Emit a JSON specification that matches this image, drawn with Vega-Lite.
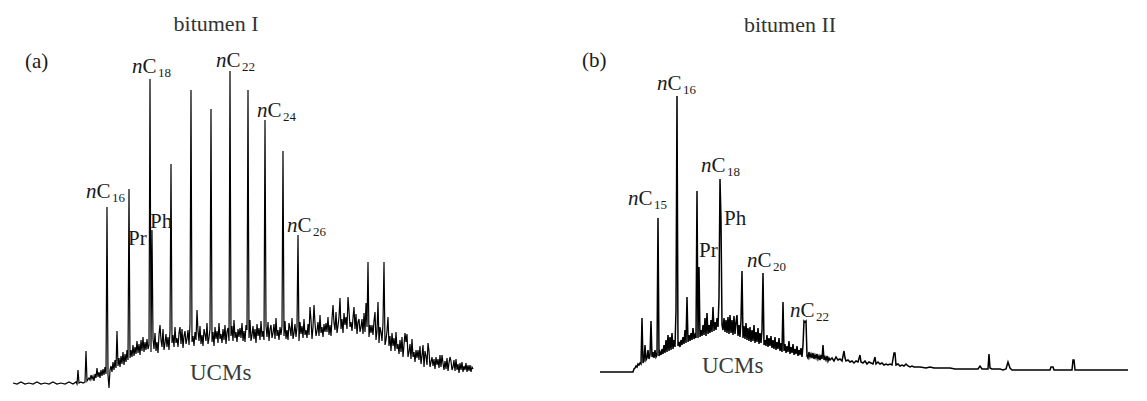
{
"$schema": "https://vega.github.io/schema/vega-lite/v6.json",
"background": "white",
"padding": {"left": 10, "top": 0, "right": 0, "bottom": 0},
"spacing": 95,
"config": {"view": {"stroke": null}, "text": {"font": "Liberation Serif", "color": "#1a1a1a"}},
"datasets": {
"a": [{"t":13,"v":7},{"t":17,"v":6},{"t":21,"v":8},{"t":25,"v":6},{"t":29,"v":7},{"t":33,"v":6},{"t":37,"v":8},{"t":41,"v":6},{"t":45,"v":7},{"t":49,"v":6},{"t":53,"v":8},{"t":57,"v":6},{"t":61,"v":7},{"t":65,"v":6},{"t":69,"v":8},{"t":73,"v":6},{"t":76,"v":8},{"t":77,"v":6},{"t":78,"v":20},{"t":79,"v":7},{"t":81,"v":8},{"t":83,"v":7},{"t":85,"v":8},{"t":86,"v":39},{"t":87,"v":9},{"t":89,"v":12},{"t":90,"v":10},{"t":91,"v":15},{"t":92,"v":11},{"t":93,"v":14},{"t":94,"v":9},{"t":95,"v":16},{"t":96,"v":12},{"t":97,"v":22},{"t":98,"v":13},{"t":99,"v":18},{"t":100,"v":12},{"t":101,"v":20},{"t":102,"v":14},{"t":103,"v":21},{"t":104,"v":15},{"t":105,"v":23},{"t":106,"v":16},{"t":107,"v":183},{"t":108,"v":15},{"t":109,"v":2},{"t":110,"v":20},{"t":111,"v":24},{"t":112,"v":18},{"t":113,"v":28},{"t":114,"v":20},{"t":115,"v":30},{"t":116,"v":22},{"t":117,"v":59},{"t":118,"v":24},{"t":119,"v":32},{"t":120,"v":23},{"t":121,"v":34},{"t":122,"v":26},{"t":123,"v":38},{"t":124,"v":25},{"t":125,"v":36},{"t":126,"v":28},{"t":127,"v":40},{"t":128,"v":30},{"t":129,"v":201},{"t":130,"v":32},{"t":131,"v":40},{"t":132,"v":33},{"t":133,"v":45},{"t":134,"v":34},{"t":135,"v":43},{"t":136,"v":36},{"t":137,"v":49},{"t":138,"v":37},{"t":139,"v":46},{"t":140,"v":35},{"t":141,"v":50},{"t":142,"v":39},{"t":143,"v":53},{"t":144,"v":38},{"t":145,"v":48},{"t":146,"v":40},{"t":147,"v":51},{"t":148,"v":41},{"t":149,"v":45},{"t":150,"v":311},{"t":151,"v":38},{"t":152,"v":160},
{"t":153,"v":51},{"t":154,"v":41},{"t":155,"v":57},{"t":156,"v":39},{"t":157,"v":48},{"t":158,"v":37},{"t":159,"v":55},{"t":160,"v":65},{"t":161,"v":50},{"t":162,"v":43},{"t":163,"v":61},{"t":164,"v":40},{"t":165,"v":47},{"t":166,"v":56},{"t":167,"v":43},{"t":168,"v":53},{"t":169,"v":40},{"t":170,"v":59},{"t":171,"v":226},{"t":172,"v":47},{"t":173,"v":55},{"t":174,"v":43},{"t":175,"v":63},{"t":176,"v":47},{"t":177,"v":52},{"t":178,"v":43},{"t":179,"v":57},{"t":180,"v":63},{"t":181,"v":46},{"t":182,"v":61},{"t":183,"v":42},{"t":184,"v":54},{"t":185,"v":59},{"t":186,"v":46},{"t":187,"v":51},{"t":188,"v":60},{"t":189,"v":45},{"t":190,"v":66},{"t":191,"v":300},{"t":192,"v":48},{"t":193,"v":54},{"t":194,"v":44},{"t":195,"v":58},{"t":196,"v":50},{"t":197,"v":80},{"t":198,"v":59},{"t":199,"v":49},{"t":200,"v":64},
{"t":201,"v":46},{"t":202,"v":55},{"t":203,"v":44},{"t":204,"v":61},{"t":205,"v":56},{"t":206,"v":49},{"t":207,"v":67},{"t":208,"v":46},{"t":209,"v":52},{"t":210,"v":61},{"t":211,"v":281},{"t":212,"v":48},{"t":213,"v":58},{"t":214,"v":44},{"t":215,"v":63},{"t":216,"v":51},{"t":217,"v":59},{"t":218,"v":47},{"t":219,"v":67},{"t":220,"v":51},{"t":221,"v":56},{"t":222,"v":47},{"t":223,"v":61},{"t":224,"v":50},{"t":225,"v":65},{"t":226,"v":46},{"t":227,"v":58},{"t":228,"v":62},{"t":229,"v":49},{"t":230,"v":319},{"t":231,"v":54},{"t":232,"v":64},{"t":233,"v":49},{"t":234,"v":70},{"t":235,"v":52},{"t":236,"v":58},{"t":237,"v":48},{"t":238,"v":61},{"t":239,"v":53},{"t":240,"v":62},{"t":241,"v":52},{"t":242,"v":67},{"t":243,"v":49},{"t":244,"v":59},{"t":245,"v":48},{"t":246,"v":65},{"t":247,"v":60},{"t":248,"v":300},{"t":249,"v":52},{"t":250,"v":70},
{"t":251,"v":49},{"t":252,"v":55},{"t":253,"v":64},{"t":254,"v":51},{"t":255,"v":61},{"t":256,"v":47},{"t":257,"v":66},{"t":258,"v":54},{"t":259,"v":62},{"t":260,"v":50},{"t":261,"v":69},{"t":262,"v":53},{"t":263,"v":59},{"t":264,"v":50},{"t":265,"v":270},{"t":266,"v":64},{"t":267,"v":53},{"t":268,"v":68},{"t":269,"v":49},{"t":270,"v":61},{"t":271,"v":65},{"t":272,"v":52},{"t":273,"v":57},{"t":274,"v":66},{"t":275,"v":51},{"t":276,"v":72},{"t":277,"v":54},{"t":278,"v":60},{"t":279,"v":50},{"t":280,"v":63},{"t":281,"v":55},{"t":282,"v":64},{"t":283,"v":239},{"t":284,"v":54},{"t":285,"v":69},{"t":286,"v":51},{"t":287,"v":60},{"t":288,"v":50},{"t":289,"v":67},{"t":290,"v":62},{"t":291,"v":54},{"t":292,"v":72},{"t":293,"v":51},{"t":294,"v":57},{"t":295,"v":66},{"t":296,"v":53},{"t":297,"v":63},{"t":298,"v":155},{"t":299,"v":49},{"t":300,"v":68},
{"t":301,"v":56},{"t":302,"v":64},{"t":303,"v":52},{"t":304,"v":71},{"t":305,"v":55},{"t":306,"v":60},{"t":307,"v":52},{"t":308,"v":66},{"t":309,"v":55},{"t":310,"v":83},{"t":311,"v":70},{"t":312,"v":51},{"t":313,"v":63},{"t":314,"v":85},{"t":315,"v":67},{"t":316,"v":54},{"t":317,"v":59},{"t":318,"v":68},{"t":319,"v":54},{"t":320,"v":75},{"t":321,"v":57},{"t":322,"v":63},{"t":323,"v":53},{"t":324,"v":66},{"t":325,"v":58},{"t":326,"v":67},{"t":327,"v":58},{"t":328,"v":73},{"t":329,"v":55},{"t":330,"v":65},{"t":331,"v":54},{"t":332,"v":71},{"t":333,"v":85},{"t":334,"v":67},{"t":335,"v":60},{"t":336,"v":78},{"t":337,"v":57},{"t":338,"v":64},{"t":339,"v":73},{"t":340,"v":92},{"t":341,"v":61},{"t":342,"v":71},{"t":343,"v":57},{"t":344,"v":77},{"t":345,"v":65},{"t":346,"v":73},{"t":347,"v":61},{"t":348,"v":93},{"t":349,"v":79},{"t":350,"v":63},
{"t":351,"v":68},{"t":352,"v":59},{"t":353,"v":72},{"t":354,"v":83},{"t":355,"v":61},{"t":356,"v":76},{"t":357,"v":56},{"t":358,"v":68},{"t":359,"v":71},{"t":360,"v":58},{"t":361,"v":63},{"t":362,"v":71},{"t":363,"v":56},{"t":364,"v":77},{"t":365,"v":58},{"t":366,"v":87},{"t":367,"v":63},{"t":368,"v":128},{"t":369,"v":53},{"t":370,"v":65},{"t":371,"v":57},{"t":372,"v":65},{"t":373,"v":55},{"t":374,"v":69},{"t":375,"v":78},{"t":376,"v":50},{"t":377,"v":59},{"t":378,"v":88},{"t":379,"v":47},{"t":380,"v":63},{"t":381,"v":58},{"t":382,"v":49},{"t":383,"v":67},{"t":384,"v":128},{"t":385,"v":45},{"t":386,"v":50},{"t":387,"v":59},{"t":388,"v":73},{"t":389,"v":44},{"t":390,"v":54},{"t":391,"v":39},{"t":392,"v":57},{"t":393,"v":44},{"t":394,"v":52},{"t":395,"v":39},{"t":396,"v":58},{"t":397,"v":41},{"t":398,"v":46},{"t":399,"v":36},{"t":400,"v":50},
{"t":401,"v":38},{"t":402,"v":53},{"t":403,"v":33},{"t":404,"v":45},{"t":405,"v":57},{"t":406,"v":48},{"t":407,"v":56},{"t":408,"v":33},{"t":409,"v":38},{"t":410,"v":46},{"t":411,"v":31},{"t":412,"v":51},{"t":413,"v":33},{"t":414,"v":38},{"t":415,"v":28},{"t":416,"v":40},{"t":417,"v":32},{"t":418,"v":40},{"t":419,"v":30},{"t":420,"v":44},{"t":421,"v":26},{"t":422,"v":34},{"t":423,"v":45},{"t":424,"v":23},{"t":425,"v":39},{"t":426,"v":34},{"t":427,"v":25},{"t":428,"v":47},{"t":429,"v":39},{"t":430,"v":23},{"t":431,"v":28},{"t":432,"v":33},{"t":433,"v":24},{"t":434,"v":31},{"t":435,"v":21},{"t":436,"v":33},{"t":437,"v":25},{"t":438,"v":31},{"t":439,"v":22},{"t":440,"v":35},{"t":441,"v":23},{"t":442,"v":35},{"t":443,"v":27},{"t":444,"v":20},{"t":445,"v":29},{"t":446,"v":21},{"t":447,"v":32},{"t":448,"v":19},{"t":449,"v":27},{"t":450,"v":33},
{"t":451,"v":29},{"t":452,"v":20},{"t":453,"v":23},{"t":454,"v":30},{"t":455,"v":19},{"t":456,"v":31},{"t":457,"v":20},{"t":458,"v":26},{"t":459,"v":17},{"t":460,"v":27},{"t":461,"v":20},{"t":462,"v":28},{"t":463,"v":18},{"t":464,"v":24},{"t":465,"v":20},{"t":466,"v":27},{"t":467,"v":18},{"t":468,"v":25},{"t":469,"v":19},{"t":470,"v":25},{"t":471,"v":18},{"t":472,"v":23},{"t":473,"v":21}],
"b": [{"t":600,"v":18},{"t":610,"v":18},{"t":620,"v":18},{"t":630,"v":18},{"t":633,"v":18},{"t":634,"v":21},{"t":635,"v":22},{"t":636,"v":24},{"t":637,"v":23},{"t":638,"v":26},{"t":639,"v":25},{"t":640,"v":27},{"t":641,"v":26},{"t":642,"v":72},{"t":643,"v":27},{"t":644,"v":29},{"t":645,"v":45},{"t":646,"v":30},{"t":647,"v":32},{"t":648,"v":40},{"t":649,"v":31},{"t":650,"v":35},{"t":651,"v":69},{"t":652,"v":33},{"t":653,"v":38},{"t":654,"v":32},{"t":655,"v":40},{"t":656,"v":33},{"t":657,"v":35},{"t":658,"v":172},{"t":659,"v":34},{"t":660,"v":38},{"t":661,"v":35},{"t":662,"v":41},{"t":663,"v":36},{"t":664,"v":45},{"t":665,"v":37},{"t":666,"v":50},{"t":667,"v":38},{"t":668,"v":55},{"t":669,"v":39},{"t":670,"v":53},{"t":671,"v":40},{"t":672,"v":57},{"t":673,"v":41},{"t":674,"v":50},{"t":675,"v":43},{"t":676,"v":80},{"t":677,"v":294},{"t":678,"v":44},{"t":679,"v":48},{"t":680,"v":43},{"t":681,"v":50},{"t":682,"v":45},{"t":683,"v":53},{"t":684,"v":46},{"t":685,"v":60},{"t":686,"v":47},{"t":687,"v":93},{"t":688,"v":48},{"t":689,"v":55},{"t":690,"v":49},{"t":691,"v":57},{"t":692,"v":50},{"t":693,"v":62},{"t":694,"v":51},{"t":695,"v":55},{"t":696,"v":52},{"t":697,"v":199},{"t":698,"v":52},{"t":699,"v":123},{"t":700,"v":53},{"t":701,"v":60},{"t":702,"v":54},{"t":703,"v":65},{"t":704,"v":55},{"t":705,"v":72},{"t":706,"v":54},{"t":707,"v":77},{"t":708,"v":56},{"t":709,"v":65},{"t":710,"v":57},{"t":711,"v":70},{"t":712,"v":58},{"t":713,"v":83},{"t":714,"v":59},{"t":715,"v":68},{"t":716,"v":60},{"t":717,"v":72},{"t":718,"v":63},{"t":719,"v":92},{"t":720,"v":211},{"t":721,"v":170},{"t":722,"v":65},{"t":723,"v":60},{"t":724,"v":72},{"t":725,"v":58},{"t":726,"v":70},{"t":727,"v":57},{"t":728,"v":73},{"t":729,"v":56},{"t":730,"v":75},{"t":731,"v":57},{"t":732,"v":70},{"t":733,"v":55},{"t":734,"v":74},{"t":735,"v":56},{"t":736,"v":68},{"t":737,"v":75},{"t":738,"v":54},{"t":739,"v":65},{"t":740,"v":53},{"t":741,"v":70},{"t":742,"v":119},{"t":743,"v":52},{"t":744,"v":64},{"t":745,"v":51},{"t":746,"v":67},{"t":747,"v":50},{"t":748,"v":62},{"t":749,"v":49},{"t":750,"v":63},{"t":751,"v":48},{"t":752,"v":60},{"t":753,"v":49},{"t":754,"v":65},{"t":755,"v":47},{"t":756,"v":58},{"t":757,"v":48},{"t":758,"v":62},{"t":759,"v":46},{"t":760,"v":57},{"t":761,"v":47},{"t":762,"v":60},{"t":763,"v":117},{"t":764,"v":45},{"t":765,"v":50},{"t":766,"v":44},{"t":767,"v":55},{"t":768,"v":43},{"t":769,"v":52},{"t":770,"v":44},{"t":771,"v":54},{"t":772,"v":42},{"t":773,"v":50},{"t":774,"v":41},{"t":775,"v":53},{"t":776,"v":40},{"t":777,"v":48},{"t":778,"v":41},{"t":779,"v":52},{"t":780,"v":39},{"t":781,"v":47},{"t":782,"v":38},{"t":783,"v":88},{"t":784,"v":39},{"t":785,"v":46},{"t":786,"v":37},{"t":787,"v":44},{"t":788,"v":38},{"t":789,"v":49},{"t":790,"v":36},{"t":791,"v":43},{"t":792,"v":37},{"t":793,"v":46},{"t":794,"v":35},{"t":795,"v":41},{"t":796,"v":36},{"t":797,"v":44},{"t":798,"v":34},{"t":799,"v":40},{"t":800,"v":35},{"t":801,"v":42},{"t":802,"v":33},{"t":803,"v":45},{"t":804,"v":69},{"t":805,"v":68},{"t":806,"v":69},{"t":807,"v":34},{"t":808,"v":32},{"t":809,"v":38},{"t":810,"v":33},{"t":811,"v":36},{"t":812,"v":32},{"t":813,"v":37},{"t":814,"v":31},{"t":815,"v":35},{"t":816,"v":32},{"t":817,"v":36},{"t":818,"v":31},{"t":819,"v":34},{"t":820,"v":30},{"t":821,"v":35},{"t":822,"v":31},{"t":823,"v":45},{"t":824,"v":30},{"t":825,"v":33},{"t":826,"v":30},{"t":827,"v":34},{"t":828,"v":29},{"t":829,"v":32},{"t":830,"v":30},{"t":832,"v":32},{"t":834,"v":29},{"t":836,"v":33},{"t":838,"v":30},{"t":840,"v":31},{"t":842,"v":29},{"t":843,"v":34},{"t":844,"v":39},{"t":845,"v":32},{"t":846,"v":29},{"t":848,"v":30},{"t":850,"v":28},{"t":852,"v":29},{"t":854,"v":27},{"t":856,"v":29},{"t":858,"v":28},{"t":860,"v":35},{"t":861,"v":28},{"t":863,"v":27},{"t":865,"v":29},{"t":867,"v":26},{"t":869,"v":28},{"t":871,"v":27},{"t":873,"v":26},{"t":875,"v":33},{"t":876,"v":26},{"t":878,"v":28},{"t":880,"v":26},{"t":882,"v":27},{"t":884,"v":25},{"t":886,"v":26},{"t":888,"v":25},{"t":890,"v":26},{"t":892,"v":25},{"t":894,"v":37},{"t":895,"v":37},{"t":896,"v":25},{"t":898,"v":26},{"t":900,"v":24},{"t":902,"v":25},{"t":904,"v":24},{"t":906,"v":26},{"t":908,"v":24},{"t":910,"v":23},{"t":912,"v":24},{"t":914,"v":23},{"t":920,"v":23},{"t":926,"v":22},{"t":930,"v":23},{"t":934,"v":22},{"t":940,"v":22},{"t":950,"v":22},{"t":955,"v":21},{"t":960,"v":21},{"t":970,"v":21},{"t":978,"v":21},{"t":980,"v":24},{"t":982,"v":21},{"t":986,"v":21},{"t":988,"v":21},{"t":989,"v":36},{"t":990,"v":22},{"t":992,"v":21},{"t":1000,"v":21},{"t":1003,"v":20},{"t":1006,"v":21},{"t":1008,"v":28},{"t":1010,"v":22},{"t":1012,"v":20},{"t":1020,"v":20},{"t":1040,"v":20},{"t":1050,"v":20},{"t":1051,"v":23},{"t":1053,"v":23},{"t":1054,"v":20},{"t":1070,"v":20},{"t":1072,"v":20},{"t":1073,"v":30},{"t":1074,"v":30},{"t":1075,"v":20},{"t":1100,"v":20},{"t":1128,"v":20}],
"an": [{"t":86,"v":192,"s":"16"},{"t":132,"v":317,"s":"18"},{"t":216,"v":323,"s":"22"},{"t":257,"v":273,"s":"24"},{"t":287,"v":158,"s":"26"}],
"ap": [{"t":128,"v":145,"txt":"Pr"},{"t":150,"v":162,"txt":"Ph"},{"t":25,"v":322,"txt":"(a)"}],
"bn": [{"t":657,"v":300,"s":"16"},{"t":628,"v":185,"s":"15"},{"t":701,"v":218,"s":"18"},{"t":747,"v":123,"s":"20"},{"t":790,"v":73,"s":"22"}],
"bp": [{"t":699,"v":133,"txt":"Pr"},{"t":724,"v":165,"txt":"Ph"},{"t":582,"v":323,"txt":"(b)"}]
},
"hconcat": [
{
"width": 470, "height": 390,
"encoding": {
"x": {"field": "t", "type": "quantitative", "scale": {"domain": [10, 480], "nice": false, "zero": false}, "axis": null},
"y": {"field": "v", "type": "quantitative", "scale": {"domain": [0, 390], "nice": false}, "axis": null}
},
"layer": [
{"data": {"name": "a"}, "mark": {"type": "line", "color": "#000", "strokeWidth": 1.2, "interpolate": "linear"}},
{"data": {"name": "an"}, "mark": {"type": "text", "align": "left", "baseline": "alphabetic", "fontSize": 21, "fontStyle": "italic"}, "encoding": {"text": {"value": "n"}}},
{"data": {"name": "an"}, "mark": {"type": "text", "align": "left", "baseline": "alphabetic", "fontSize": 21, "dx": 10.5}, "encoding": {"text": {"value": "C"}}},
{"data": {"name": "an"}, "mark": {"type": "text", "align": "left", "baseline": "alphabetic", "fontSize": 13, "dx": 26, "dy": 4}, "encoding": {"text": {"field": "s"}}},
{"data": {"name": "ap"}, "mark": {"type": "text", "align": "left", "baseline": "alphabetic", "fontSize": 21}, "encoding": {"text": {"field": "txt"}}},
{"data": {"values": [{"t": 190, "v": 10, "txt": "UCMs"}]}, "mark": {"type": "text", "align": "left", "baseline": "alphabetic", "fontSize": 23, "color": "#3a3a3a"}, "encoding": {"text": {"field": "txt"}}},
{"data": {"values": [{"t": 216, "v": 359, "txt": "bitumen I"}]}, "mark": {"type": "text", "align": "center", "baseline": "alphabetic", "fontSize": 22, "color": "#333"}, "encoding": {"text": {"field": "txt"}}}
]
},
{
"width": 560, "height": 390,
"encoding": {
"x": {"field": "t", "type": "quantitative", "scale": {"domain": [575, 1135], "nice": false, "zero": false}, "axis": null},
"y": {"field": "v", "type": "quantitative", "scale": {"domain": [0, 390], "nice": false}, "axis": null}
},
"layer": [
{"data": {"name": "b"}, "mark": {"type": "line", "color": "#000", "strokeWidth": 1.5, "interpolate": "linear"}},
{"data": {"name": "bn"}, "mark": {"type": "text", "align": "left", "baseline": "alphabetic", "fontSize": 21, "fontStyle": "italic"}, "encoding": {"text": {"value": "n"}}},
{"data": {"name": "bn"}, "mark": {"type": "text", "align": "left", "baseline": "alphabetic", "fontSize": 21, "dx": 10.5}, "encoding": {"text": {"value": "C"}}},
{"data": {"name": "bn"}, "mark": {"type": "text", "align": "left", "baseline": "alphabetic", "fontSize": 13, "dx": 26, "dy": 4}, "encoding": {"text": {"field": "s"}}},
{"data": {"name": "bp"}, "mark": {"type": "text", "align": "left", "baseline": "alphabetic", "fontSize": 21}, "encoding": {"text": {"field": "txt"}}},
{"data": {"values": [{"t": 702, "v": 17, "txt": "UCMs"}]}, "mark": {"type": "text", "align": "left", "baseline": "alphabetic", "fontSize": 23, "color": "#3a3a3a"}, "encoding": {"text": {"field": "txt"}}},
{"data": {"values": [{"t": 790, "v": 358, "txt": "bitumen II"}]}, "mark": {"type": "text", "align": "center", "baseline": "alphabetic", "fontSize": 22, "color": "#333"}, "encoding": {"text": {"field": "txt"}}}
]
}
]
}
